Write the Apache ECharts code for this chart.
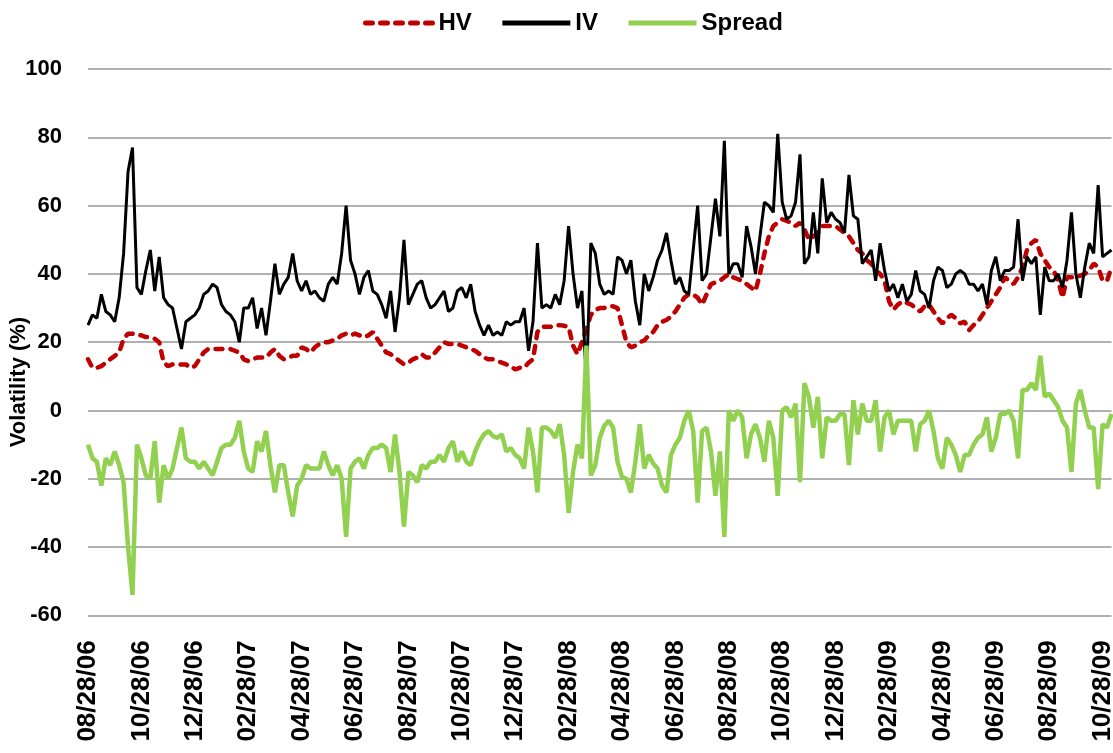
<!DOCTYPE html>
<html>
<head>
<meta charset="utf-8">
<script src="https://cdn.jsdelivr.net/npm/echarts@6/dist/echarts.min.js"></script>
<style>
  html, body { margin: 0; padding: 0; background: #fff; }
  #chart { width: 1113px; height: 753px; }
</style>
</head>
<body>
<div id="chart"></div>
<script>
// tick labels on the x axis, one every STEP samples
var tickLabels = ['08/28/06', '10/28/06', '12/28/06', '02/28/07', '04/28/07', '06/28/07', '08/28/07',
    '10/28/07', '12/28/07', '02/28/08', '04/28/08', '06/28/08', '08/28/08', '10/28/08', '12/28/08',
    '02/28/09', '04/28/09', '06/28/09', '08/28/09', '10/28/09'];
var STEP = 12;

// implied volatility (%)
var iv = [
    25, 28, 27, 34, 29, 28, 26, 33, 46, 70,
    77, 36, 34, 41, 47, 35, 45, 33, 31, 30,
    24, 18, 26, 27, 28, 30, 34, 35, 37, 36,
    31, 29, 28, 26, 20, 30, 30, 33, 24, 30,
    22, 32, 43, 34, 37, 39, 46, 38, 35, 38,
    34, 35, 33, 32, 37, 39, 37, 46, 60, 44,
    40, 34, 39, 41, 35, 34, 31, 27, 35, 23,
    33, 50, 31, 34, 37, 38, 33, 30, 31, 33,
    35, 29, 30, 35, 36, 33, 37, 29, 25, 22,
    25, 22, 23, 22, 26, 25, 26, 26, 30, 17.5,
    26, 49, 30, 31, 30, 34, 31, 38, 54, 40,
    30, 35, 8, 49, 46, 37, 34, 35, 34, 45,
    44, 40, 44, 32, 25, 40, 35, 39, 44, 47,
    52, 44, 37, 39, 35, 34, 47, 60, 38, 40,
    51, 62, 51, 79, 40, 43, 43, 39, 54, 48,
    40, 51, 61, 60, 58, 81, 61, 56, 57, 61,
    75, 43, 45, 58, 46, 68, 55, 58, 56, 55,
    52, 69, 57, 56, 43, 45, 47, 38, 49, 41,
    35, 37, 33, 37, 32, 34, 41, 35, 34, 30,
    38, 42, 41, 36, 37, 40, 41, 40, 37, 37,
    35, 37, 31, 41, 45, 38, 41, 41, 42, 56,
    38, 45, 43, 45, 28, 42, 38, 38, 40, 36,
    44, 58, 40, 33, 42, 49, 46, 66, 45, 46, 47
];

// historical volatility (%)
var hv = [
    15, 12.5, 12.5, 13, 14, 15, 16, 17, 21, 22.5,
    22.5, 22, 22, 21.5, 21.5, 21, 20, 14, 13, 13.5,
    13.5, 13.5, 13.5, 12.5, 13, 15, 17, 18, 18, 18,
    18, 18, 18, 17.5, 17, 15, 14.5, 15, 15.5, 15.5,
    15.5, 17, 18, 16, 15, 15.5, 16, 16, 18.5, 18,
    17, 18.5, 19.5, 20, 20, 20.5, 21, 22, 22.5, 22,
    22.5, 22, 21.5, 22, 23, 21, 19, 17, 16.5, 15.5,
    14.5, 13.5, 14, 15, 15.5, 16.5, 15.5, 15.5, 17, 18.5,
    20, 19.5, 19.5, 19.5, 19, 18.5, 18, 17.5, 16.5, 15.5,
    15, 15, 14.5, 14, 13.5, 13, 12, 12.5, 12.5, 14,
    15, 23, 24.5, 24.5, 24.5, 25, 25, 24.8, 24.5, 19,
    16.5, 20, 24, 28, 29.5, 30, 30, 30.5, 30.5, 30,
    25, 20, 18.5, 19, 20, 20.5, 22, 23, 25, 26,
    26.5, 27.5, 29, 31, 33, 34, 34, 33, 31, 34,
    37, 37.5, 38, 39, 40, 39, 38.5, 38, 37, 36,
    35, 40, 46, 51, 54, 55, 56, 55.5, 55, 54,
    55, 53, 50, 51, 52, 54, 54, 54, 54, 53,
    52, 51, 49, 47, 46, 44, 43, 41, 40, 38,
    32, 29.5, 31, 32, 31.5, 31, 30, 29, 30.5, 31,
    29, 27, 25.5, 27, 28, 27, 25.5, 26, 23.5, 25,
    26, 28, 30, 32, 34, 36, 39, 38, 37, 39,
    42, 47, 49, 50, 46, 44, 42, 41, 38, 33,
    39, 39, 39, 39.5, 40, 41, 43, 42, 38, 38, 42
];

// spread HV - IV
var spread = [
    -10, -14, -15, -22, -14, -16, -12, -16, -21, -40,
    -54, -10, -14, -19, -20, -9, -27, -16, -20, -17,
    -11, -5, -14, -15, -15, -17, -15, -17, -19, -15,
    -11, -10, -10, -8, -3, -12, -17, -18, -9, -12,
    -6, -16, -24, -16, -16, -24, -31, -22, -20, -16,
    -17, -17, -17, -12, -16, -19, -16, -20, -37, -17,
    -15, -14, -17, -13, -11, -11, -10, -11, -18, -7,
    -18, -34, -18, -19, -21, -16, -17, -15, -15, -13,
    -15, -11, -9, -15, -12, -15, -16, -12, -9, -7,
    -6, -7.5, -8, -7, -12, -11, -13, -14, -17, -5,
    -12, -24, -5, -5, -6, -8, -4, -13, -30, -18,
    -10, -14, 19, -19, -16, -8, -4.5, -3, -5, -15,
    -19.5, -20, -24, -15, -4, -17, -13, -15.5, -17, -22,
    -24, -13, -10, -8, -3, 0, -6, -27, -6, -5,
    -12, -25, -12, -37, 0, -3, 0, -2, -14, -7,
    -4, -8, -15, -3, -8, -25, 0, 1, -2, 2,
    -21, 8, 4, -5, 4, -14, -2, -3, -3, -1,
    -1, -16, 3, -7, 2, -3, -3, 3, -12, -2,
    0, -7, -3, -3, -3, -3, -12, -4, -3, 0,
    -6, -14, -17, -8, -10, -13, -18, -13, -13, -10,
    -8, -7, -2, -12, -8, -1, -1, 0, -3, -14,
    6, 6, 8, 6, 16, 4, 5, 3, 1, -3,
    -5, -18, 2, 6, 0, -5, -5, -23, -4, -5, -1
];

var categories = [];
for (var i = 0; i < iv.length; i++) {
    categories.push(i % STEP === 0 ? tickLabels[i / STEP] : 'p' + i);
}

var dom = document.getElementById('chart');
var myChart = echarts.init(dom);
var font = 'Liberation Sans, Arial, sans-serif';

var option = {
    animation: false,
    backgroundColor: '#fff',
    legend: {
        left: 358,
        top: 6,
        itemWidth: 68,
        itemHeight: 14,
        itemGap: 28,
        itemStyle: { opacity: 0 },
        lineStyle: { width: 5 },
        textStyle: { fontFamily: font, fontSize: 24, fontWeight: 'bold', color: '#000' },
        data: ['HV', 'IV', 'Spread']
    },
    grid: {
        left: 88,
        right: 1.5,
        top: 69,
        bottom: 137.6,
        containLabel: false,
        outerBoundsMode: 'none'
    },
    graphic: [{
        type: 'text',
        x: 19,
        y: 382,
        rotation: Math.PI / 2,
        style: {
            text: 'Volatility (%)',
            fontFamily: font,
            fontSize: 22,
            fontWeight: 'bold',
            fill: '#000',
            align: 'center',
            verticalAlign: 'middle'
        }
    }],
    xAxis: {
        type: 'category',
        data: categories,
        boundaryGap: false,
        axisLine: { show: false },
        axisTick: { show: false },
        splitLine: { show: false },
        axisLabel: {
            interval: STEP - 1,
            rotate: 90,
            margin: 25,
            fontFamily: font,
            fontSize: 26,
            fontWeight: 'bold',
            color: '#000'
        }
    },
    yAxis: {
        type: 'value',
        min: -60,
        max: 100,
        interval: 20,
        axisLine: { show: false },
        axisTick: { show: false },
        splitLine: { lineStyle: { color: '#B0B0B0', width: 2 } },
        axisLabel: {
            margin: 26,
            fontFamily: font,
            fontSize: 22,
            fontWeight: 'bold',
            color: '#000'
        }
    },
    series: [{
        name: 'HV',
        type: 'line',
        data: hv,
        symbol: 'none',
        itemStyle: { color: '#C00000' },
        lineStyle: { color: '#C00000', width: 4.5, type: [7, 8], cap: 'round' }
    }, {
        name: 'IV',
        type: 'line',
        data: iv,
        symbol: 'none',
        itemStyle: { color: '#000' },
        lineStyle: { color: '#000', width: 3 }
    }, {
        name: 'Spread',
        type: 'line',
        data: spread,
        symbol: 'none',
        itemStyle: { color: '#92D050' },
        lineStyle: { color: '#92D050', width: 4.5 }
    }]
};

if (option && typeof option === 'object') {
    myChart.setOption(option, true);
}
</script>
</body>
</html>
